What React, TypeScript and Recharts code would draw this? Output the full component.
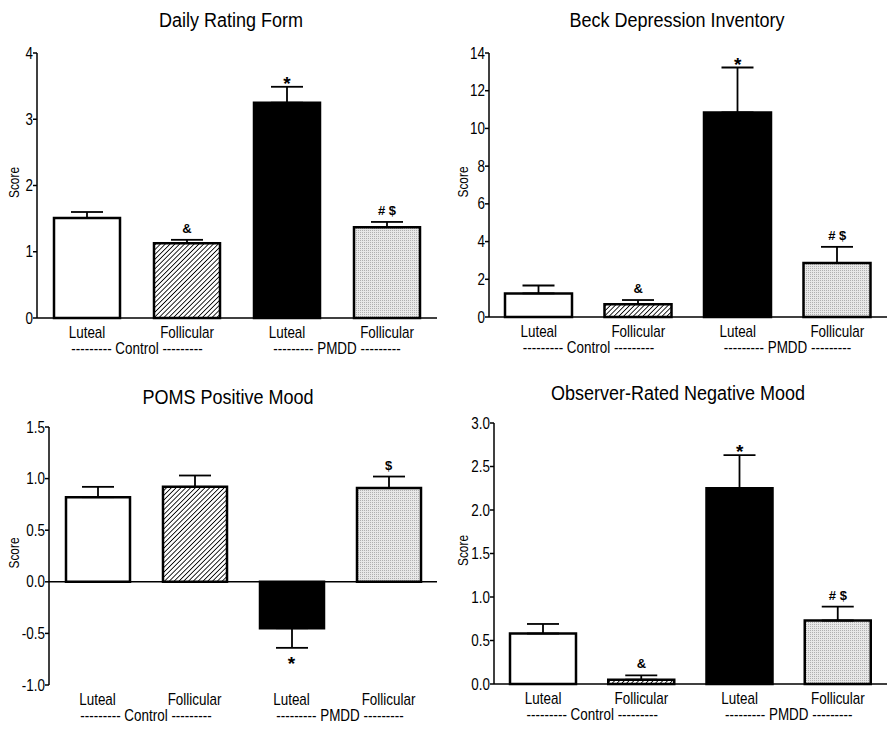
import React from "react";
import {
  ComposedChart,
  Bar,
  Cell,
  ErrorBar,
  Line,
  LabelList,
  XAxis,
  YAxis,
  ReferenceLine,
} from "recharts";

const FONT = "'Liberation Sans', Arial, sans-serif";
const SQUEEZE = 0.84;

// shared categories
const phases = ["Luteal", "Follicular", "Luteal", "Follicular"];
const groups = ["Control", "Control", "PMDD", "PMDD"];
const fills = ["#ffffff", "url(#hatch)", "#000000", "url(#dots)"];

// Daily Rating Form
const drfMean = [1.51, 1.13, 3.25, 1.37];
const drfSem = [0.09, 0.05, 0.24, 0.08];
const drfMarks = ["", "&", "*", "# $"];
const drfTicks = [0, 1, 2, 3, 4];

// Beck Depression Inventory
const bdiMean = [1.25, 0.68, 10.85, 2.86];
const bdiSem = [0.42, 0.22, 2.38, 0.86];
const bdiMarks = ["", "&", "*", "# $"];
const bdiTicks = [0, 2, 4, 6, 8, 10, 12, 14];

// POMS Positive Mood
const pomsMean = [0.82, 0.92, -0.45, 0.91];
const pomsSem = [0.1, 0.11, 0.19, 0.11];
const pomsMarks = ["", "", "*", "$"];
const pomsTicks = [-1, -0.5, 0, 0.5, 1, 1.5];

// Observer-Rated Negative Mood
const obsMean = [0.58, 0.05, 2.25, 0.73];
const obsSem = [0.11, 0.05, 0.38, 0.16];
const obsMarks = ["", "&", "*", "# $"];
const obsTicks = [0, 0.5, 1, 1.5, 2, 2.5, 3];

function buildRows(mean: number[], sem: number[], marks: string[]) {
  return mean.map((v, i) => ({
    phase: phases[i],
    group: groups[i],
    value: v,
    err: v >= 0 ? [0, sem[i]] : [sem[i], 0],
    tip: v >= 0 ? v + sem[i] : v - sem[i],
    mark: marks[i],
  }));
}

// condensed-looking text (no narrow font installed)
function Narrow({ x, y, anchor, size, children }: any) {
  return (
    <text
      transform={`translate(${x},${y}) scale(${SQUEEZE},1)`}
      textAnchor={anchor}
      fontSize={size}
      fontFamily={FONT}
      fill="#000"
    >
      {children}
    </text>
  );
}

type PanelProps = {
  title: string;
  rows: any[];
  ticks: number[];
  decimals: number;
  left: number;
  top: number;
  height: number;
  yWidth: number;
  margin: { top: number; right: number; bottom: number; left: number };
  barSize: number;
  titleShift: number;
  titleTop: number;
  labelX: number;
};

function Panel(p: PanelProps) {
  const domain = [p.ticks[0], p.ticks[p.ticks.length - 1]];

  const yTick = (props: any) => (
    <Narrow x={props.x} y={props.y + 5.5} anchor="end" size={16}>
      {props.payload.value.toFixed(p.decimals)}
    </Narrow>
  );

  const phaseTick = (props: any) => (
    <Narrow x={props.x} y={props.y + 20} anchor="middle" size={16}>
      {props.payload.value}
    </Narrow>
  );

  const groupTick = (props: any) => (
    <Narrow x={props.x} y={props.y + 14} anchor="middle" size={16}>
      {`--------- ${props.payload.value} ---------`}
    </Narrow>
  );

  const scoreLabel = (props: any) => {
    const vb = props.viewBox;
    const cx = vb.x + p.labelX;
    const cy = vb.y + vb.height / 2 - 3;
    return (
      <text
        transform={`translate(${cx},${cy}) rotate(-90) scale(0.85,1)`}
        textAnchor="middle"
        dominantBaseline="central"
        fontSize={14}
        fontFamily={FONT}
        fill="#000"
      >
        Score
      </text>
    );
  };

  const markLabel = (props: any) => {
    const { x, y, value, index } = props;
    if (!value) return null;
    const below = p.rows[index].value < 0;
    const star = value === "*";
    let ty = y - 7;
    if (star) ty = below ? y + 22 : y + 3;
    return (
      <text
        x={x}
        y={ty}
        textAnchor="middle"
        fontSize={star ? 19 : 13}
        fontWeight="bold"
        fontFamily={FONT}
        fill="#000"
      >
        {value}
      </text>
    );
  };

  return (
    <div style={{ position: "absolute", left: p.left, top: p.top, width: 444, height: p.height }}>
      <div
        style={{
          position: "absolute",
          left: p.titleShift,
          top: p.titleTop,
          width: 444,
          textAlign: "center",
          fontFamily: FONT,
          fontSize: 20,
          color: "#000",
          lineHeight: "24px",
          transform: "scaleX(0.9)",
          transformOrigin: "center",
        }}
      >
        {p.title}
      </div>
      <ComposedChart width={444} height={p.height} data={p.rows} margin={p.margin}>
        <XAxis
          dataKey="phase"
          axisLine={false}
          tickLine={false}
          tickSize={0}
          tickMargin={0}
          height={22}
          interval={0}
          tick={phaseTick}
        />
        <XAxis
          xAxisId="grp"
          dataKey="group"
          allowDuplicatedCategory={false}
          axisLine={false}
          tickLine={false}
          tickSize={0}
          tickMargin={0}
          height={20}
          interval={0}
          tick={groupTick}
        />
        <YAxis
          type="number"
          domain={domain}
          ticks={p.ticks}
          interval={0}
          width={p.yWidth}
          axisLine={{ stroke: "#000", strokeWidth: 1.5 }}
          tickLine={{ stroke: "#000", strokeWidth: 1.5 }}
          tickSize={4}
          tickMargin={0}
          tick={yTick}
          label={scoreLabel}
        />
        <ReferenceLine y={0} stroke="#000" strokeWidth={1.5} />
        <Bar
          dataKey="value"
          barSize={p.barSize}
          stroke="#000"
          strokeWidth={2.5}
          isAnimationActive={false}
        >
          {p.rows.map((r, i) => (
            <Cell key={i} fill={fills[i]} />
          ))}
          <ErrorBar dataKey="err" width={16} stroke="#000" strokeWidth={1.8} />
        </Bar>
        <Line
          dataKey="tip"
          stroke="none"
          dot={false}
          activeDot={false}
          legendType="none"
          isAnimationActive={false}
        >
          <LabelList dataKey="mark" content={markLabel} />
        </Line>
      </ComposedChart>
    </div>
  );
}

export default function App() {
  return (
    <div style={{ position: "absolute", left: 0, top: 0, width: 888, height: 732, background: "#fff" }}>
      <svg width={0} height={0} style={{ position: "absolute" }}>
        <defs>
          <pattern id="hatch" width={3.4} height={3.4} patternUnits="userSpaceOnUse" patternTransform="rotate(45)">
            <rect width={3.4} height={3.4} fill="#fff" />
            <line x1={0} y1={0} x2={0} y2={3.4} stroke="#000" strokeWidth={1.7} />
          </pattern>
          <pattern id="dots" width={2} height={2} patternUnits="userSpaceOnUse">
            <rect width={2} height={2} fill="#e8e8e8" />
            <rect width={1} height={1} fill="#b0b0b0" />
          </pattern>
        </defs>
      </svg>
      <Panel
        title="Daily Rating Form"
        rows={buildRows(drfMean, drfSem, drfMarks)}
        ticks={drfTicks}
        decimals={0}
        left={0}
        top={0}
        height={370}
        yWidth={37}
        margin={{ top: 53, right: 7, bottom: 10, left: 0 }}
        barSize={66}
        titleShift={9}
        titleTop={8}
        labelX={14}
      />
      <Panel
        title="Beck Depression Inventory"
        rows={buildRows(bdiMean, bdiSem, bdiMarks)}
        ticks={bdiTicks}
        decimals={0}
        left={444}
        top={0}
        height={370}
        yWidth={45}
        margin={{ top: 53, right: 1, bottom: 11, left: 0 }}
        barSize={67}
        titleShift={11}
        titleTop={8}
        labelX={19}
      />
      <Panel
        title="POMS Positive Mood"
        rows={buildRows(pomsMean, pomsSem, pomsMarks)}
        ticks={pomsTicks}
        decimals={1}
        left={0}
        top={370}
        height={362}
        yWidth={49}
        margin={{ top: 57, right: 7, bottom: 5, left: 0 }}
        barSize={64}
        titleShift={6}
        titleTop={15}
        labelX={14}
      />
      <Panel
        title="Observer-Rated Negative Mood"
        rows={buildRows(obsMean, obsSem, obsMarks)}
        ticks={obsTicks}
        decimals={1}
        left={444}
        top={370}
        height={362}
        yWidth={50}
        margin={{ top: 53, right: 1, bottom: 6, left: 0 }}
        barSize={66}
        titleShift={12}
        titleTop={11}
        labelX={19}
      />
    </div>
  );
}
